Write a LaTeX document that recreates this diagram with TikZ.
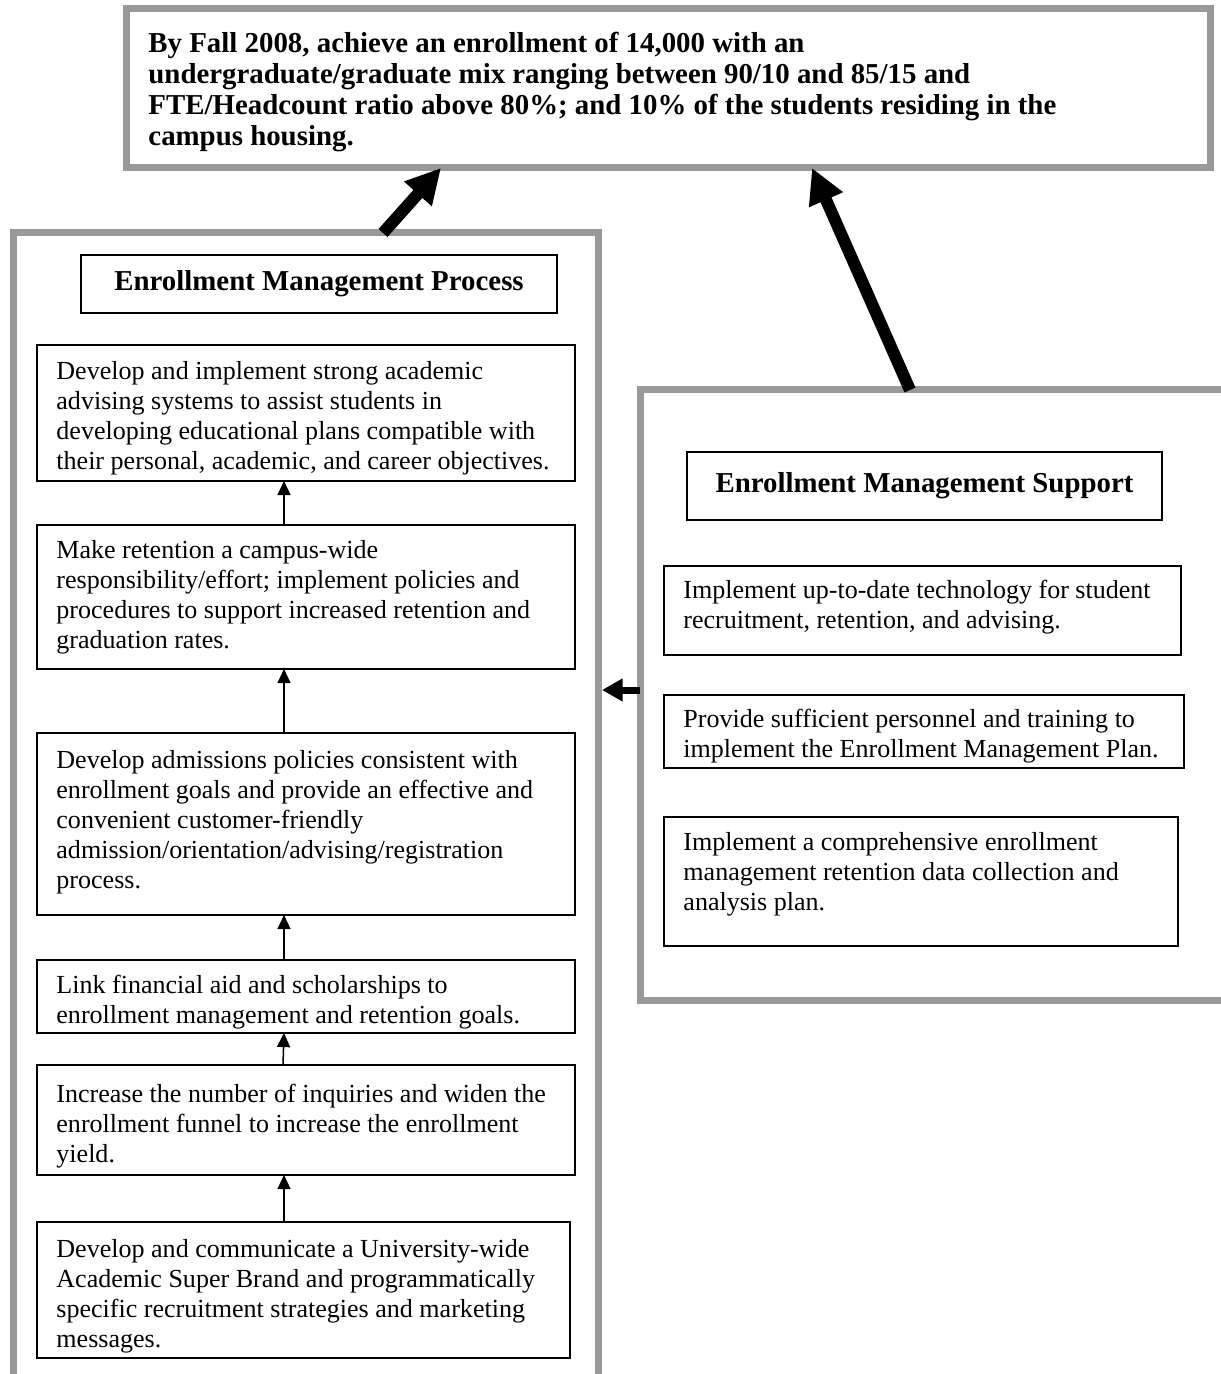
\documentclass[tikz,border=0pt]{standalone}
\usepackage{fontspec}
\setmainfont{Liberation Serif}
\usetikzlibrary{arrows.meta,calc}

\newdimen\px \px=0.4608pt
\definecolor{framegray}{gray}{0.6}

\tikzset{
  grayline/.style={draw=framegray, line width=7\px},
  grayframe/.style={grayline, outer sep=0pt, inner sep=0pt, anchor=north west},
  stepbox/.style={draw, line width=2\px, outer sep=0pt, inner sep=0pt, anchor=north west},
  boxtext/.style={anchor=north west, align=left, inner sep=0pt, font=\fontsize{12pt}{13.8pt}\selectfont},
  headbox/.style={draw, line width=2\px, outer sep=0pt, inner sep=0pt, font=\fontsize{13.3pt}{14.3pt}\selectfont\bfseries},
  uparrow/.style={line width=1.5\px, -{Triangle[width=6pt,length=6.5pt]}},
  fatarrow/.style={line width=12\px, -{Triangle[width=16pt,length=16pt]}},
  sidearrow/.style={line width=7\px, -{Triangle[width=10pt,length=9.5pt]}},
}

\begin{document}
\begin{tikzpicture}[x=\px, y=-\px]
\useasboundingbox (0,0) rectangle (1220,1374);

% goal at the top
\node[grayframe, minimum width=1084\px, minimum height=159\px] (goal) at (126,9) {};
\node[boxtext, font=\fontsize{13.3pt}{14.3pt}\selectfont\bfseries] (goaltxt) at ($(goal.north west)+(22,23)$)
  {By Fall 2008, achieve an enrollment of 14,000 with an\\
   undergraduate/graduate mix ranging between 90/10 and 85/15 and\\
   FTE/Headcount ratio above 80\%; and 10\% of the students residing in the\\
   campus housing.};

% the two frames
\draw[grayline] (13,1380) |- (598,233) -- (598,1380);
\draw[grayline] (1230,390) -| (640,1000) -- (1230,1000);

% process column
\node[headbox, minimum width=476\px, minimum height=58\px] (emp) at (319,284) {Enrollment Management Process};

\node[stepbox, minimum width=538\px, minimum height=136\px] (adv) at (37,345) {};
\node[stepbox, minimum width=538\px, minimum height=144\px] (ret) at (37,525) {};
\node[stepbox, minimum width=538\px, minimum height=182\px] (adm) at (37,733) {};
\node[stepbox, minimum width=538\px, minimum height=73\px] (aid) at (37,960) {};
\node[stepbox, minimum width=538\px, minimum height=110\px] (inq) at (37,1065) {};
\node[stepbox, minimum width=533\px, minimum height=136\px] (brand) at (37,1222) {};

\node[boxtext] (advtxt) at ($(adv.north west)+(19,16)$)
  {Develop and implement strong academic\\
   advising systems to assist students in\\
   developing educational plans compatible with\\
   their personal, academic, and career objectives.};
\node[boxtext] (rettxt) at ($(ret.north west)+(19,15)$)
  {Make retention a campus-wide\\
   responsibility/effort; implement policies and\\
   procedures to support increased retention and\\
   graduation rates.};
\node[boxtext] (admtxt) at ($(adm.north west)+(19,17)$)
  {Develop admissions policies consistent with\\
   enrollment goals and provide an effective and\\
   convenient customer-friendly\\
   admission/orientation/advising/registration\\
   process.};
\node[boxtext] (aidtxt) at ($(aid.north west)+(19,15)$)
  {Link financial aid and scholarships to\\
   enrollment management and retention goals.};
\node[boxtext] (inqtxt) at ($(inq.north west)+(19,19)$)
  {Increase the number of inquiries and widen the\\
   enrollment funnel to increase the enrollment\\
   yield.};
\node[boxtext] (brandtxt) at ($(brand.north west)+(19,17)$)
  {Develop and communicate a University-wide\\
   Academic Super Brand and programmatically\\
   specific recruitment strategies and marketing\\
   messages.};

\draw[uparrow] ($(ret.north west)+(247,0)$) -- ($(adv.south west)+(247,0)$);
\draw[uparrow] ($(adm.north west)+(247,0)$) -- ($(ret.south west)+(247,0)$);
\draw[uparrow] ($(aid.north west)+(247,0)$) -- ($(adm.south west)+(247,0)$);
\draw[uparrow] ($(inq.north west)+(246,0)$) -- ($(aid.south west)+(247,0)$);
\draw[uparrow] ($(brand.north west)+(247,0)$) -- ($(inq.south west)+(247,0)$);

% support column
\node[headbox, minimum width=475\px, minimum height=68\px] (ems) at (924.5,486) {Enrollment Management Support};

\node[stepbox, minimum width=517\px, minimum height=89\px] (tech) at (664,566) {};
\node[stepbox, minimum width=520\px, minimum height=73\px] (staff) at (664,695) {};
\node[stepbox, minimum width=514\px, minimum height=129\px] (data) at (664,817) {};

\node[boxtext] (techtxt) at ($(tech.north west)+(19,14)$)
  {Implement up-to-date technology for student\\
   recruitment, retention, and advising.};
\node[boxtext] (stafftxt) at ($(staff.north west)+(19,14)$)
  {Provide sufficient personnel and training to\\
   implement the Enrollment Management Plan.};
\node[boxtext] (datatxt) at ($(data.north west)+(19,15)$)
  {Implement a comprehensive enrollment\\
   management retention data collection and\\
   analysis plan.};

% links between frames and goal
\coordinate (proctop) at (383,233);
\coordinate (supptop) at (910,390);
\coordinate (suppside) at (640,690);
\coordinate (procside) at (602,690);

\draw[fatarrow] (proctop) -- ($(goal.south west)+(315,0)$);
\draw[fatarrow] (supptop) -- ($(goal.south west)+(686,0)$);
\draw[sidearrow] (suppside) -- (procside);

\end{tikzpicture}
\end{document}
